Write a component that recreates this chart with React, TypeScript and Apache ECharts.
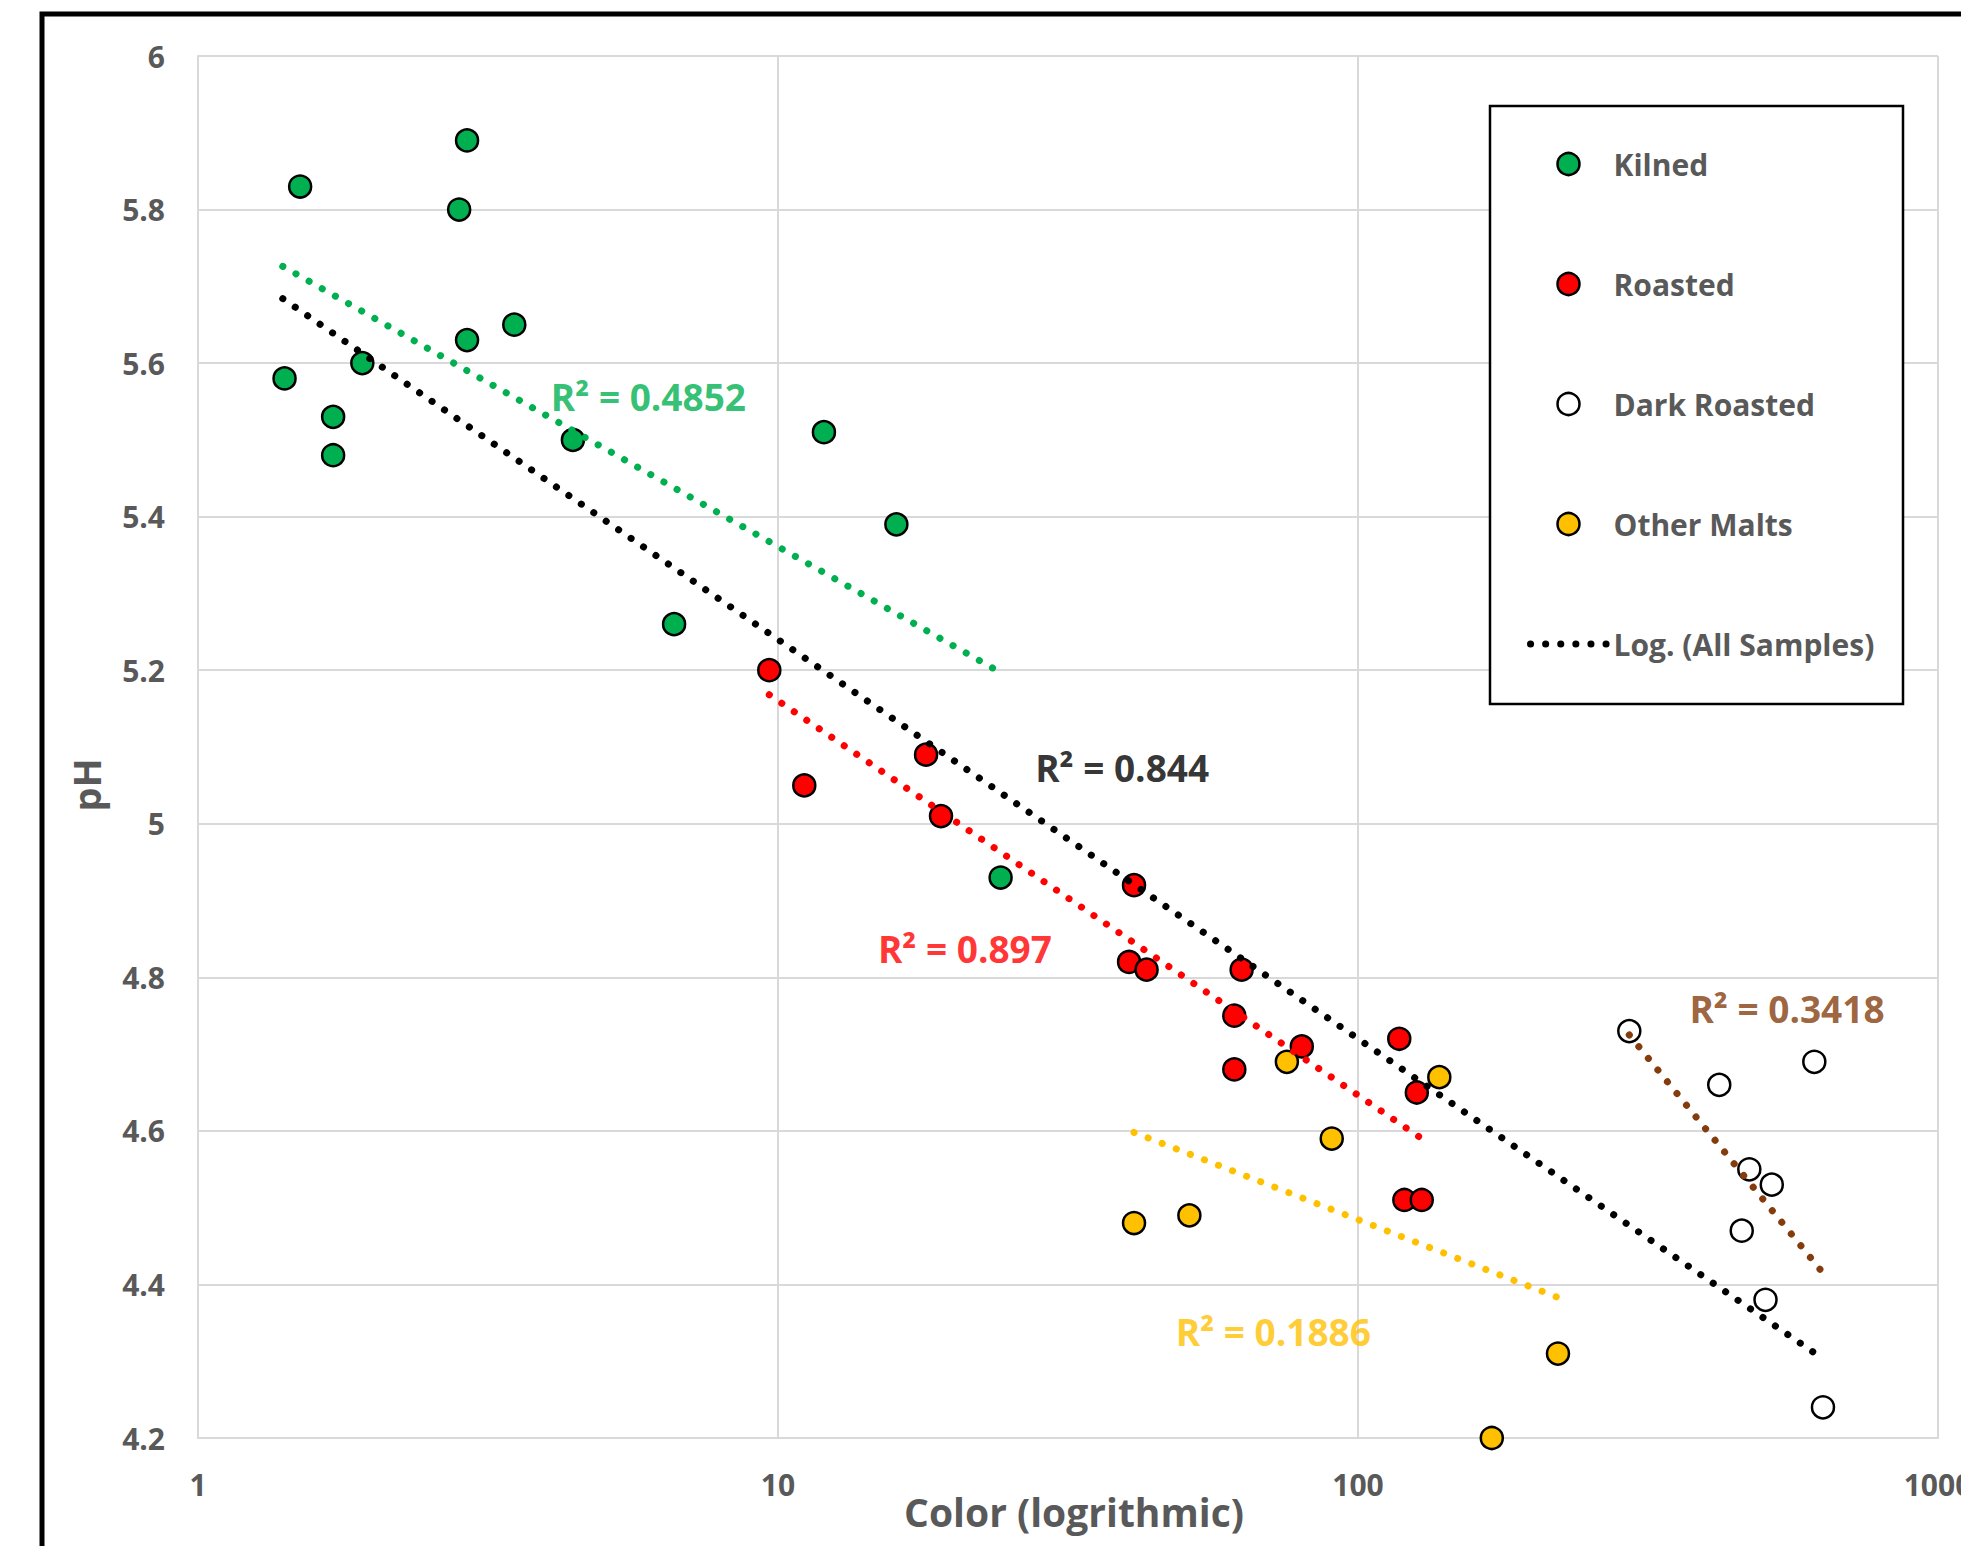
import React, { useEffect, useRef } from "react";
import * as echarts from "echarts";

// ---- Data ----
const kilnedColor = [1.41, 1.5, 1.71, 1.71, 1.92, 2.82, 2.91, 2.91, 3.51, 4.43, 6.62, 12.0, 16.0, 24.2];
const kilnedPH = [5.58, 5.83, 5.53, 5.48, 5.6, 5.8, 5.89, 5.63, 5.65, 5.5, 5.26, 5.51, 5.39, 4.93];

const roastedColor = [9.66, 11.1, 18.0, 19.1, 41.1, 40.3, 43.2, 61.2, 61.2, 63.0, 80.0, 117.8, 126.3, 120.2, 128.8];
const roastedPH = [5.2, 5.05, 5.09, 5.01, 4.92, 4.82, 4.81, 4.75, 4.68, 4.81, 4.71, 4.72, 4.65, 4.51, 4.51];

const darkColor = [293.6, 419.6, 612, 472.8, 516.9, 458.8, 504.2, 633.4];
const darkPH = [4.73, 4.66, 4.69, 4.55, 4.53, 4.47, 4.38, 4.24];

const otherColor = [41.1, 51.2, 75.4, 90.1, 138.1, 221.2, 170.1];
const otherPH = [4.48, 4.49, 4.69, 4.59, 4.67, 4.31, 4.2];

// Trendline endpoints (logarithmic fits appear straight on a log axis)
const trendAllColor = [1.4, 620];
const trendAllPH = [5.684, 4.308];
const trendKilnedColor = [1.4, 24.2];
const trendKilnedPH = [5.726, 5.197];
const trendRoastedColor = [9.66, 128.8];
const trendRoastedPH = [5.168, 4.59];
const trendOtherColor = [41.1, 221.2];
const trendOtherPH = [4.598, 4.383];
const trendDarkColor = [293.6, 633.4];
const trendDarkPH = [4.725, 4.415];

// R² annotation anchors (left edge, vertical middle) and texts
const r2Texts = ["R² = 0.4852", "R² = 0.844", "R² = 0.897", "R² = 0.1886", "R² = 0.3418"];
const r2Color = [4.05, 27.7, 14.84, 48.4, 372];
const r2PH = [5.557, 5.073, 4.837, 4.339, 4.759];
const r2Colors = ["#00B050", "#000000", "#FF0000", "#FFC000", "#843C0C"];

const xTickLabels: Record<number, string> = { 1: "1", 10: "10", 100: "100", 1000: "1000" };

const legendNames = ["Kilned", "Roasted", "Dark Roasted", "Other Malts", "Log. (All Samples)"];
const seriesColors = ["#00B050", "#FF0000", "#FFFFFF", "#FFC000"];

const zip = (xs: number[], ys: number[]) => xs.map((x, i) => [x, ys[i]]);

const FONT = "'Open Sans', 'DejaVu Sans', sans-serif";
const GRAY = "#595959";
const GRID = "#D9D9D9";

const dotted = (color: string) => ({
  color,
  width: 7,
  type: [0.1, 15] as number[],
  cap: "round" as const,
});

export default function App() {
  const ref = useRef<HTMLDivElement>(null);

  useEffect(() => {
    const chart = echarts.init(ref.current!, null, { renderer: "svg" });

    const scatter = (name: string, xs: number[], ys: number[], color: string) => ({
      type: "scatter",
      name,
      data: zip(xs, ys),
      symbol: "circle",
      symbolSize: 22,
      itemStyle: { color, borderColor: "#000", borderWidth: 2.5, opacity: 1 },
      z: 2,
    });

    const trend = (name: string, xs: number[], ys: number[], color: string) => ({
      type: "line",
      name,
      data: zip(xs, ys),
      symbol: "none",
      lineStyle: dotted(color),
      z: 3,
      silent: true,
    });

    chart.setOption({
      animation: false,
      backgroundColor: "#FFFFFF",
      grid: { left: 198, right: 23, top: 56, bottom: 108, containLabel: false, outerBoundsMode: "none" },
      xAxis: {
        type: "log",
        logBase: 10,
        min: 1,
        max: 1000,
        axisLine: { show: true, lineStyle: { color: GRID, width: 2 } },
        axisTick: { show: false },
        splitLine: { show: true, lineStyle: { color: GRID, width: 2 } },
        minorSplitLine: { show: false },
        axisLabel: {
          color: GRAY,
          fontSize: 30,
          fontWeight: "bold",
          fontFamily: FONT,
          margin: 31,
          formatter: (v: number) => xTickLabels[Math.round(v)] ?? String(v),
        },
        name: "Color (logrithmic)",
        nameLocation: "middle",
        nameGap: 54,
        nameMoveOverlap: false,
        nameTextStyle: {
          color: GRAY,
          fontSize: 39,
          fontWeight: "bold",
          fontFamily: FONT,
          padding: [0, 0, 0, 12],
        },
      },
      yAxis: {
        type: "value",
        min: 4.2,
        max: 6,
        interval: 0.2,
        axisLine: { show: true, lineStyle: { color: GRID, width: 2 } },
        axisTick: { show: false },
        splitLine: { show: true, lineStyle: { color: GRID, width: 2 } },
        axisLabel: {
          color: GRAY,
          fontSize: 30,
          fontWeight: "bold",
          fontFamily: FONT,
          margin: 33,
          formatter: (v: number) => String(+v.toFixed(1)),
        },
      },
      legend: {
        orient: "vertical",
        left: 1527,
        top: 149,
        padding: 0,
        itemWidth: 76,
        itemHeight: 22,
        itemGap: 90,
        selectedMode: false,
        textStyle: {
          color: GRAY,
          fontSize: 30,
          fontWeight: "bold",
          fontFamily: FONT,
          lineHeight: 30,
          padding: [0, 0, 0, 2],
        },
        data: [
          { name: legendNames[0], itemStyle: { color: seriesColors[0], borderColor: "#000", borderWidth: 2.5 } },
          { name: legendNames[1], itemStyle: { color: seriesColors[1], borderColor: "#000", borderWidth: 2.5 } },
          { name: legendNames[2], itemStyle: { color: seriesColors[2], borderColor: "#000", borderWidth: 2.5 } },
          { name: legendNames[3], itemStyle: { color: seriesColors[3], borderColor: "#000", borderWidth: 2.5 } },
          {
            name: legendNames[4],
            lineStyle: dotted("#000000"),
            itemStyle: { color: "rgba(0,0,0,0)", borderWidth: 0, opacity: 0 },
          },
        ],
      },
      graphic: [
        {
          type: "rect",
          z: 100,
          shape: { x: 42, y: 14, width: 2000, height: 1600 },
          style: { fill: "none", stroke: "#000", lineWidth: 5 },
          silent: true,
        },
        {
          type: "rect",
          z: 3,
          shape: { x: 1490, y: 106, width: 413, height: 598 },
          style: { fill: "#FFFFFF", stroke: "#000", lineWidth: 2.5 },
          silent: true,
        },
        {
          type: "text",
          x: 86,
          y: 785,
          rotation: Math.PI / 2,
          style: {
            text: "pH",
            fill: GRAY,
            fontSize: 38,
            fontWeight: "bold",
            fontFamily: FONT,
            align: "center",
            verticalAlign: "middle",
          },
          silent: true,
        },
      ],
      series: [
        scatter(legendNames[0], kilnedColor, kilnedPH, seriesColors[0]),
        scatter(legendNames[1], roastedColor, roastedPH, seriesColors[1]),
        scatter(legendNames[2], darkColor, darkPH, seriesColors[2]),
        scatter(legendNames[3], otherColor, otherPH, seriesColors[3]),
        trend(legendNames[4], trendAllColor, trendAllPH, "#000000"),
        trend("Log. (Kilned)", trendKilnedColor, trendKilnedPH, "#00B050"),
        trend("Log. (Roasted)", trendRoastedColor, trendRoastedPH, "#FF0000"),
        trend("Log. (Other Malts)", trendOtherColor, trendOtherPH, "#FFC000"),
        trend("Log. (Dark Roasted)", trendDarkColor, trendDarkPH, "#843C0C"),
        {
          type: "scatter",
          name: "R² labels",
          silent: true,
          symbolSize: 1,
          itemStyle: { color: "rgba(0,0,0,0)" },
          z: 4,
          data: r2Texts.map((t, i) => ({
            value: [r2Color[i], r2PH[i]],
            label: {
              show: true,
              position: "right",
              distance: 0,
              formatter: t,
              color: r2Colors[i],
              fontSize: 37,
              fontWeight: "bold",
              fontFamily: FONT,
            },
          })),
        },
      ],
    });

    return () => chart.dispose();
  }, []);

  return (
    <div
      ref={ref}
      style={{ position: "fixed", left: 0, top: 0, width: 1961, height: 1546, background: "#fff" }}
    />
  );
}
